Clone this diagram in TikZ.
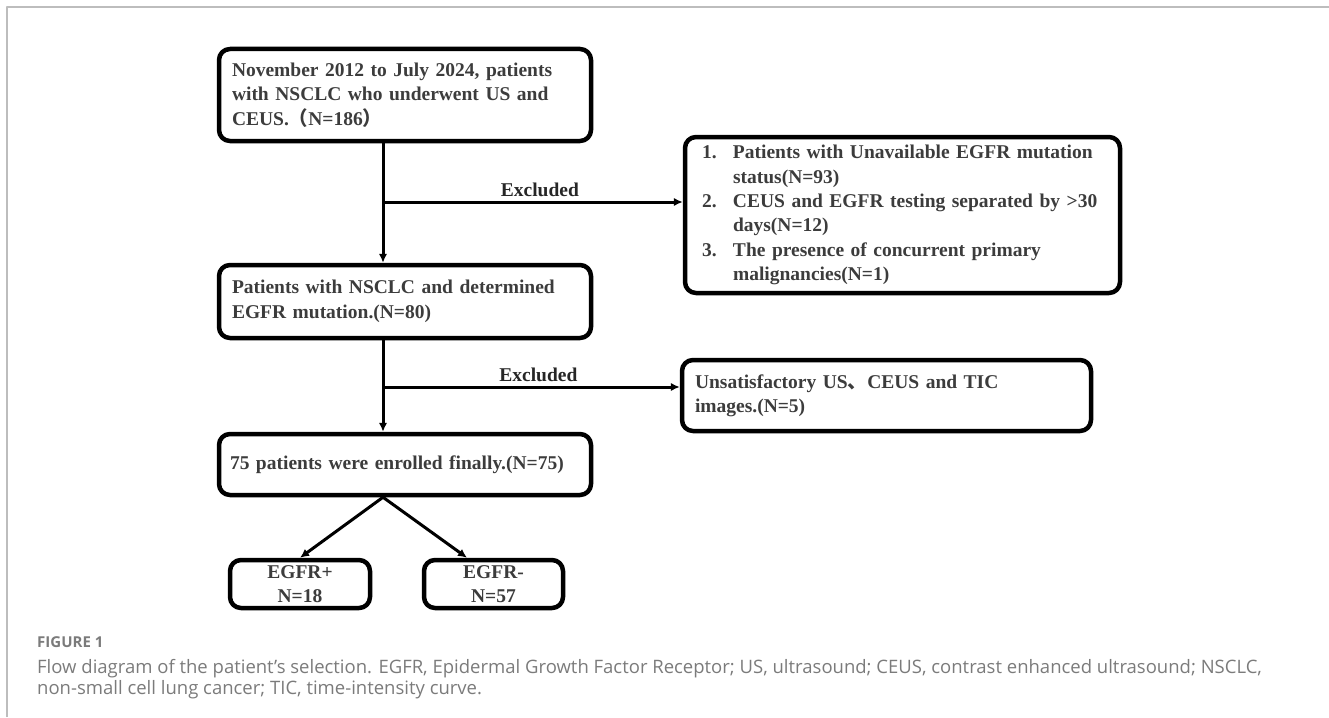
\documentclass[tikz,border=0pt]{standalone}
\usepackage{fontspec}
\setmainfont{Liberation Serif}
\newfontfamily\capfont{Open Sans}
\newfontfamily\cjk{Noto Sans CJK SC}
\usetikzlibrary{arrows.meta}
\definecolor{boxtext}{HTML}{3C3C3C}
\definecolor{capgray}{HTML}{7B7B7B}
\definecolor{framegray}{HTML}{BDBDBD}
\tikzset{
  flowbox/.style={draw, line width=4.5pt, rounded corners=11pt, inner xsep=13pt, inner ysep=0pt,
    align=left, text=boxtext, font=\fontsize{19.5}{24.4}\selectfont\bfseries},
  flowline/.style={->, line width=3pt},
  exclabel/.style={above, inner sep=4pt, text=black!85, font=\fontsize{19.5}{22}\selectfont\bfseries},
  captext/.style={anchor=base west, inner sep=0pt, text=capgray},
}
\begin{document}
\begin{tikzpicture}[x=1pt, y=-1pt, line join=round, >={Latex[length=9pt,width=8.5pt]}]
			\def\xa{383} \def\ya{202} \def\yb{387}
			\useasboundingbox (0,0) rectangle (1329,717);
			\draw[framegray, line width=1.2pt] (7,717)--(7,7)--(1329,7);
			% main column
			\node[flowbox, text width=346pt, minimum height=92pt] (start) at (405,95)
				{November 2012 to July 2024, patients\\with NSCLC who underwent US and\\CEUS.{\cjk （}N=186{\cjk ）}};
			\node[flowbox, text width=346pt, minimum height=73pt] (cohort) at (405,301.5)
				{Patients with NSCLC and determined\\EGFR mutation.(N=80)};
			\node[flowbox, text width=350pt, minimum height=61pt, inner xsep=11pt] (final) at (405,464.5)
				{75 patients were enrolled finally.(N=75)};
			\node[flowbox, text width=114pt, minimum height=48pt, align=center] (pos) at (300,584) {EGFR+\\N=18};
			\node[flowbox, text width=113pt, minimum height=48pt, align=center] (neg) at (493.5,584) {EGFR-\\N=57};
			% exclusion boxes
			\node[flowbox, text width=401pt, minimum height=156pt, inner xsep=17pt] (exc1) at (902.5,215)
				{\makebox[31pt][l]{1.}Patients with Unavailable EGFR mutation\\
				\hspace*{31pt}status(N=93)\\
				\makebox[31pt][l]{2.}CEUS and EGFR testing separated by >30\\
				\hspace*{31pt}days(N=12)\\
				\makebox[31pt][l]{3.}The presence of concurrent primary\\
				\hspace*{31pt}malignancies(N=1)};
			\node[flowbox, text width=383pt, minimum height=71pt] (exc2) at (886.5,395.5)
				{Unsatisfactory US{\cjk 、}CEUS and TIC\\images.(N=5)};
			% connectors
			\coordinate (j1) at (\xa,\ya);
			\coordinate (j2) at (\xa,\yb);
			\draw[flowline] (start.south -| j1) -- (cohort.north -| j1);
			\draw[flowline] (cohort.south -| j1) -- (final.north -| j1);
			\draw[flowline] (j1) -- node[exclabel, xshift=7pt]{Excluded} (j1 -| exc1.west);
			\draw[flowline] (j2) -- node[exclabel, xshift=7pt]{Excluded} (j2 -| exc2.west);
			\draw[flowline] (final.south -| j1) -- (pos.north);
			\draw[flowline] (final.south -| j1) -- ([xshift=-26.5pt]neg.north);
			% caption
			\node[captext, font=\capfont\bfseries\fontsize{15}{17}\selectfont] (fig) at (37,647) {FIGURE 1};
			\node[captext, font=\capfont\fontsize{18.5}{21}\selectfont] (cap1) at (37,673)
				{Flow diagram of the patient’s selection. EGFR, Epidermal Growth Factor Receptor; US, ultrasound; CEUS, contrast enhanced ultrasound; NSCLC,};
			\node[captext, font=\capfont\fontsize{18.5}{21}\selectfont] (cap2) at (37,694)
				{non-small cell lung cancer; TIC, time-intensity curve.};
		\end{tikzpicture}
\end{document}
